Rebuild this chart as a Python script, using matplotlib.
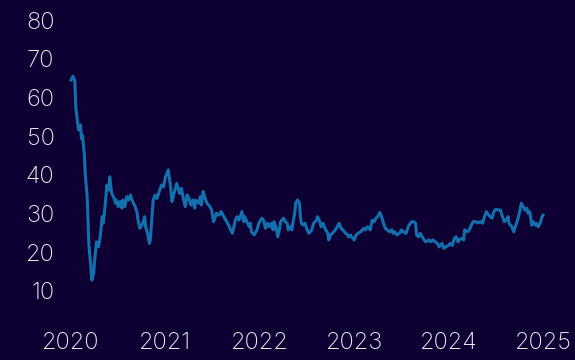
import matplotlib
matplotlib.use("Agg")
import matplotlib.pyplot as plt

# decimal years and values, split into stretches
t_2020 = [
    2020.00, 2020.02, 2020.04, 2020.05, 2020.07, 2020.08, 2020.10, 2020.11,
    2020.12, 2020.14, 2020.15, 2020.16, 2020.17, 2020.18, 2020.19, 2020.21,
    2020.22, 2020.24, 2020.25, 2020.27, 2020.29, 2020.31, 2020.33, 2020.34,
    2020.36, 2020.38, 2020.40, 2020.41, 2020.43, 2020.45, 2020.47, 2020.48,
    2020.50, 2020.52, 2020.54, 2020.55, 2020.57, 2020.59, 2020.61, 2020.63,
    2020.64, 2020.66, 2020.68, 2020.70, 2020.71, 2020.73, 2020.75, 2020.77,
    2020.78, 2020.79, 2020.81, 2020.83,
]
v_2020 = [
    64.5, 65.5, 64.3, 57.6, 53.3, 51.6, 52.9, 49.4,
    50.3, 45.6, 40.4, 37.4, 34.8, 28.3, 21.4, 16.3,
    12.8, 14.6, 18.0, 22.7, 21.4, 24.0, 29.2, 27.5,
    31.8, 37.4, 36.1, 39.5, 35.2, 34.4, 32.7, 33.5,
    31.8, 33.1, 31.4, 33.5, 31.8, 34.4, 33.5, 34.8,
    33.9, 32.7, 31.8, 30.1, 28.3, 26.2, 27.0, 28.3,
    29.2, 26.6, 24.9, 22.3,
]

t_2021 = [
    2020.84, 2020.87, 2020.89, 2020.91, 2020.94, 2020.96, 2020.98, 2021.00,
    2021.03, 2021.05, 2021.07, 2021.09, 2021.12, 2021.14, 2021.15, 2021.17,
    2021.19, 2021.21, 2021.23, 2021.25, 2021.27, 2021.29, 2021.31, 2021.32,
    2021.35, 2021.37, 2021.38, 2021.40, 2021.42, 2021.44, 2021.47, 2021.49,
    2021.51, 2021.53, 2021.54, 2021.57, 2021.59, 2021.61, 2021.64, 2021.67,
    2021.69, 2021.71, 2021.74, 2021.76, 2021.78, 2021.81, 2021.83, 2021.84,
    2021.87, 2021.89,
]
v_2021 = [
    23.2, 33.5, 34.8, 33.9, 36.1, 37.4, 36.9, 39.5,
    41.3, 37.8, 33.1, 35.2, 37.8, 36.1, 35.2, 36.5,
    33.9, 31.8, 34.8, 33.9, 32.2, 33.5, 31.4, 33.5,
    32.7, 34.4, 32.2, 35.7, 33.9, 32.7, 31.8, 30.9,
    27.9, 29.2, 30.1, 29.6, 30.5, 29.6, 28.3, 27.0,
    25.8, 24.9, 28.3, 29.2, 28.3, 30.5, 27.9, 29.2,
    27.5, 26.6,
]

t_2022 = [
    2021.90, 2021.91, 2021.94, 2021.97, 2021.99, 2022.02, 2022.04, 2022.06,
    2022.08, 2022.10, 2022.12, 2022.14, 2022.15, 2022.17, 2022.19, 2022.21,
    2022.22, 2022.25, 2022.27, 2022.29, 2022.30, 2022.32, 2022.34, 2022.35,
    2022.37, 2022.38, 2022.40, 2022.42, 2022.43, 2022.44, 2022.46, 2022.48,
    2022.50, 2022.52, 2022.55, 2022.57, 2022.60, 2022.61, 2022.63, 2022.65,
    2022.67, 2022.69, 2022.72, 2022.73, 2022.75, 2022.77, 2022.80, 2022.82,
    2022.84, 2022.86, 2022.88, 2022.91, 2022.93, 2022.94,
]
v_2022 = [
    27.5, 25.3, 24.5, 25.8, 27.5, 28.8, 28.3, 26.2,
    27.5, 26.6, 27.5, 25.8, 27.9, 26.6, 24.0, 26.2,
    27.9, 28.8, 27.9, 27.5, 25.8, 26.6, 25.8, 27.5,
    30.1, 32.7, 33.5, 32.7, 29.2, 27.5, 27.0, 27.5,
    25.8, 24.9, 25.8, 27.5, 28.3, 29.2, 28.3, 26.6,
    27.5, 26.2, 24.9, 23.2, 24.5, 24.9, 25.8, 26.6,
    27.5, 26.2, 25.8, 24.9, 24.5, 24.0,
]

t_2023 = [
    2022.96, 2022.97, 2023.00, 2023.02, 2023.04, 2023.07, 2023.10, 2023.12,
    2023.14, 2023.17, 2023.19, 2023.21, 2023.23, 2023.26, 2023.27, 2023.29,
    2023.31, 2023.33, 2023.35, 2023.37, 2023.40, 2023.41, 2023.43, 2023.45,
    2023.48, 2023.50, 2023.52, 2023.55, 2023.56, 2023.58, 2023.61, 2023.63,
    2023.65, 2023.66, 2023.68, 2023.70, 2023.72, 2023.74, 2023.76, 2023.79,
    2023.81, 2023.83, 2023.86, 2023.88, 2023.90,
]
v_2023 = [
    24.5, 24.0, 23.2, 24.5, 24.9, 25.3, 26.2, 25.8,
    26.6, 25.8, 28.3, 27.9, 28.8, 29.6, 30.3, 29.2,
    27.5, 26.2, 25.8, 25.3, 25.8, 24.9, 25.3, 24.5,
    24.9, 25.8, 25.3, 24.9, 25.8, 27.0, 27.9, 27.9,
    27.5, 24.5, 24.0, 24.9, 24.0, 23.2, 22.7, 23.2,
    22.7, 23.2, 22.7, 22.3, 21.4,
]

t_2024 = [
    2023.91, 2023.93, 2023.95, 2023.97, 2024.00, 2024.02, 2024.04, 2024.06,
    2024.08, 2024.10, 2024.11, 2024.14, 2024.16, 2024.17, 2024.20, 2024.22,
    2024.24, 2024.26, 2024.29, 2024.31, 2024.34, 2024.36, 2024.38, 2024.40,
    2024.41, 2024.44, 2024.46, 2024.48, 2024.50, 2024.53, 2024.55, 2024.57,
    2024.59, 2024.61, 2024.63, 2024.64, 2024.67, 2024.69, 2024.70, 2024.72,
    2024.74, 2024.76, 2024.77, 2024.79, 2024.81, 2024.83, 2024.84, 2024.86,
    2024.88, 2024.90, 2024.92, 2024.93, 2024.95, 2024.97, 2024.99, 2025.00,
]
v_2024 = [
    21.8, 22.3, 21.0, 21.4, 21.8, 22.3, 21.8, 23.6,
    24.0, 22.7, 23.2, 23.6, 23.2, 25.8, 25.3, 25.8,
    27.0, 27.9, 27.9, 27.6, 27.9, 27.5, 29.2, 30.5,
    30.1, 29.2, 28.8, 30.5, 31.1, 30.9, 30.9, 29.2,
    27.9, 28.3, 29.2, 27.5, 26.6, 25.3, 26.2, 27.5,
    29.2, 31.4, 32.7, 31.8, 30.9, 31.4, 30.1, 30.5,
    27.0, 27.9, 27.0, 27.5, 26.6, 27.5, 29.2, 29.6,
]

y_ticks = [10, 20, 30, 40, 50, 60, 70, 80]
x_ticks = [2020, 2021, 2022, 2023, 2024, 2025]

bg = "#0e0033"
line_color = "#1470ad"
text_color = "#f0eef5"

years = t_2020 + t_2021 + t_2022 + t_2023 + t_2024
values = v_2020 + v_2021 + v_2022 + v_2023 + v_2024

plt.rcParams["font.family"] = ["Inter", "DejaVu Sans"]
plt.rcParams["font.weight"] = "light"

fig = plt.figure(figsize=(5.75, 3.6), dpi=100, facecolor=bg)
ax = fig.add_axes([60 / 575, 50 / 360, 500 / 575, 300 / 360], facecolor=bg)

ax.plot(years, values, color=line_color, linewidth=2.2, solid_joinstyle="round")

ax.set_xlim(2019.883, 2025.18)
ax.set_ylim(5.09, 82.6)
ax.set_xticks(x_ticks)
ax.set_xticklabels([str(y) for y in x_ticks])
ax.set_yticks(y_ticks)
ax.tick_params(axis="both", length=0, labelsize=17, colors=text_color)
ax.tick_params(axis="x", pad=16)
ax.tick_params(axis="y", pad=4)
for s in ax.spines.values():
    s.set_visible(False)

fig.savefig("out.png", dpi=100, facecolor=bg)
